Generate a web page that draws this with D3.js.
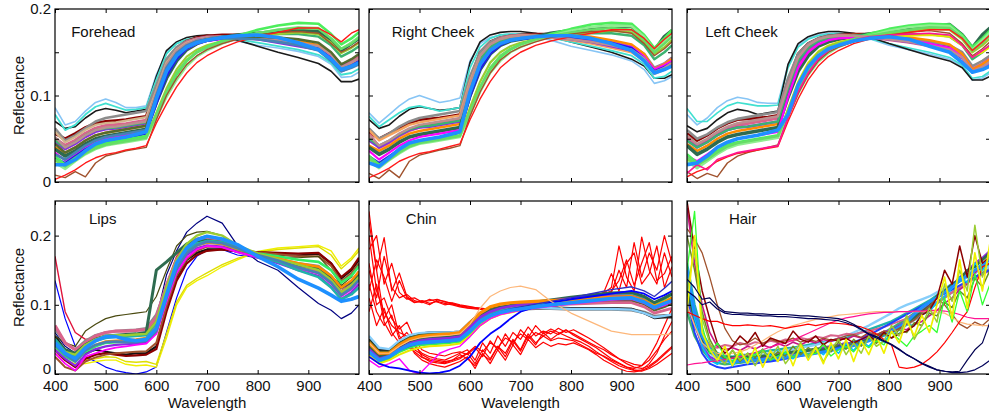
<!DOCTYPE html>
<html>
<head>
<meta charset="utf-8">
<script src="https://cdn.jsdelivr.net/npm/d3@7"></script>
<style>
  body { margin: 0; background: #fff; }
  svg { display: block; }
</style>
</head>
<body>
<svg id="chart" width="989" height="415"></svg>
<script>
// Reflectance spectra of six face / head regions. All reflectance values are in thousandths.

// Wavelength sampling (nm) for the smooth skin-type spectra
const skinGrid = [400,420,440,460,480,500,520,540,560,580,600,620,640,660,680,700,730,760,800,840,880,920,945,965,985,1000];
// Finer wavelength sampling (nm) for the noisy spectra
const fineGrid = [400,415,430,445,460,475,490,505,520,535,550,565,580,595,610,625,640,655,670,685,700,715,730,745,760,775,790,805,820,835,850,865,880,895,910,925,940,955,970,985,1000];

const foreheadCurves = [
  [86,66,70,82,92,96,92,86,86,88,124,150,160,164,166,167,166,163,158,155,151,145,136,121,122,127],
  [70,62,64,74,82,85,83,80,82,84,122,152,162,167,169,170,168,164,157,150,144,137,128,116,116,119],
  [78,60,66,78,87,91,87,83,84,86,118,148,160,165,167,168,167,165,161,157,153,147,138,124,126,131],
  [56,50,56,63,68,70,71,72,74,76,108,140,155,163,167,169,170,170,167,164,160,155,146,132,138,145],
  [62,48,54,62,70,74,76,78,80,82,112,142,156,163,166,168,168,167,166,164,162,158,149,136,140,146],
  [50,42,48,56,62,65,66,67,69,71,102,134,152,161,165,167,168,168,166,164,161,157,148,134,139,145],
  [58,46,52,60,66,68,69,71,73,75,106,138,153,161,165,167,168,167,165,162,158,153,143,130,134,138],
  [40,34,40,48,54,57,59,61,63,65,96,126,145,156,162,165,167,168,168,166,163,158,147,131,136,142],
  [46,38,44,52,58,61,62,64,66,68,98,128,148,159,164,166,168,168,165,161,157,153,142,128,133,139],
  [48,40,46,54,60,62,63,65,67,69,100,130,148,158,163,166,168,169,170,171,171,168,158,145,151,157],
  [38,30,36,44,50,53,55,57,59,61,92,120,140,153,160,164,167,170,172,174,175,174,164,152,160,166],
  [34,25,32,40,46,50,52,54,56,58,94,124,143,154,160,163,165,166,165,163,160,156,146,134,138,142],
  [28,22,30,38,44,47,49,51,53,56,90,122,142,154,160,163,166,167,166,164,160,155,143,130,135,140],
  [25,18,26,34,40,44,46,48,50,52,80,108,130,145,153,158,163,166,169,171,173,171,161,149,155,161],
  [30,20,28,36,42,45,47,49,51,53,76,102,124,140,150,156,163,169,176,181,184,183,171,159,166,173],
  [22,15,24,32,38,42,44,46,48,50,74,98,118,134,145,152,160,166,172,176,179,178,166,154,161,168],
  [26,18,25,33,39,43,45,47,49,51,78,104,126,141,150,155,162,167,172,176,178,177,166,154,160,167],
  [52,40,46,54,60,63,64,66,68,70,104,136,152,160,164,166,167,167,166,164,161,157,147,133,138,143],
  [8,5,12,6,22,30,33,36,38,40,72,100,120,136,146,153,160,165,170,173,174,172,160,150,156,162],
  [3,8,14,22,28,32,34,37,39,42,68,90,110,126,138,146,155,162,168,173,178,178,170,162,172,176],
  [44,34,40,48,54,57,59,61,63,65,98,128,146,156,162,165,167,168,168,167,165,161,150,136,142,148],
  [32,26,34,42,48,52,54,56,58,60,100,132,149,158,163,165,166,166,165,162,158,152,140,128,132,136],
  [20,20,26,36,44,48,50,52,55,58,96,128,146,156,161,164,167,169,170,167,161,153,142,130,134,138]
];

const rightCheekCurves = [
  [80,68,78,88,96,100,96,92,94,97,140,160,167,170,171,171,168,164,157,152,147,140,130,114,117,122],
  [72,62,66,76,84,87,85,83,84,86,138,162,170,173,174,174,172,168,162,156,150,142,134,120,120,124],
  [76,64,72,80,86,88,85,82,84,86,132,156,166,170,171,171,170,167,162,157,152,146,136,120,122,128],
  [58,50,56,62,68,72,73,74,76,78,118,150,162,167,169,170,171,171,168,165,161,156,146,130,136,143],
  [62,50,56,64,70,74,76,78,80,82,122,150,162,167,169,170,170,169,167,165,162,158,148,132,137,144],
  [55,40,46,54,60,64,66,68,70,72,112,144,158,165,168,169,169,168,165,162,158,154,145,130,136,142],
  [60,48,54,60,66,69,71,73,75,77,116,146,159,165,168,169,169,167,164,160,155,150,140,125,130,135],
  [42,36,42,50,56,59,61,63,65,67,104,136,153,162,166,168,169,170,170,168,164,159,148,130,136,142],
  [48,40,46,54,60,63,64,66,68,70,108,140,155,163,167,168,169,168,165,162,157,152,141,126,131,137],
  [50,42,48,55,61,64,65,67,69,71,110,142,156,163,166,168,169,170,171,172,172,169,158,142,150,158],
  [40,32,38,46,52,55,57,59,61,63,100,130,148,158,163,165,168,172,175,178,180,180,168,152,168,175],
  [36,26,34,42,48,52,54,56,58,60,102,134,150,159,164,166,167,168,167,165,161,156,145,130,135,140],
  [30,22,30,38,44,48,50,52,54,57,98,130,148,158,163,165,167,168,167,165,161,155,143,128,133,138],
  [26,18,26,34,41,45,47,49,51,53,86,116,138,150,157,161,165,168,171,173,175,173,162,148,156,164],
  [30,20,28,36,43,46,48,50,52,54,80,108,130,144,153,159,165,171,177,182,184,183,170,155,166,176],
  [24,16,25,33,40,44,46,48,50,52,78,104,126,140,150,156,163,169,175,179,181,180,168,152,163,172],
  [28,18,26,34,41,45,47,49,51,53,82,110,132,146,154,159,165,169,173,176,178,176,164,150,160,168],
  [54,42,48,56,62,66,68,70,72,74,114,146,159,165,168,169,169,168,165,162,158,153,143,127,132,138],
  [10,4,14,5,24,31,34,37,39,42,76,104,126,141,150,156,162,167,171,174,175,172,160,146,154,162],
  [5,10,16,24,29,33,35,38,41,44,72,96,116,132,142,150,158,163,168,172,176,176,166,154,165,172],
  [22,18,28,38,45,48,50,52,55,58,104,136,152,160,164,166,168,169,169,166,160,152,140,126,130,134]
];

const leftCheekCurves = [
  [78,66,74,86,94,98,96,92,91,91,135,158,166,170,172,172,170,166,158,153,148,142,134,118,120,126],
  [85,70,70,80,88,92,90,88,88,89,132,156,165,169,171,172,170,166,160,155,150,144,135,120,122,128],
  [65,58,62,72,80,84,82,78,80,82,136,160,168,172,174,174,172,168,160,153,146,140,132,118,118,122],
  [56,48,54,62,68,72,73,74,75,77,116,148,160,166,169,170,171,171,168,165,161,156,146,130,136,143],
  [60,50,55,63,69,73,75,77,79,81,120,148,160,166,169,170,170,169,167,165,162,158,150,134,140,146],
  [52,42,48,56,62,66,68,70,72,74,110,142,157,164,167,169,169,168,165,162,158,154,146,130,136,142],
  [44,36,42,50,56,59,61,63,65,67,102,134,152,162,166,168,170,170,169,167,164,159,148,130,136,142],
  [48,40,46,54,60,63,64,66,68,70,106,138,154,162,166,168,169,168,165,162,158,153,143,127,132,138],
  [42,32,38,46,52,55,57,59,61,63,98,128,146,157,162,165,168,171,174,177,180,182,170,155,170,178],
  [48,40,46,54,60,63,64,66,68,70,108,140,155,163,166,168,169,170,171,171,171,168,158,142,150,158],
  [30,24,32,40,46,50,52,54,56,58,98,132,150,159,164,166,167,167,166,164,160,155,144,128,133,138],
  [25,20,28,35,40,44,46,48,50,52,84,116,138,151,158,162,165,167,168,169,170,168,158,145,150,156],
  [26,18,26,34,41,45,47,49,51,53,84,114,136,150,157,161,165,168,171,174,177,176,165,150,158,166],
  [32,22,28,36,43,46,48,50,52,54,78,106,128,143,152,158,165,171,177,181,183,182,170,156,166,175],
  [24,16,24,32,39,43,45,47,49,51,76,102,124,139,149,156,163,169,175,179,181,180,168,153,164,173],
  [28,20,26,34,41,45,47,49,51,53,80,108,130,145,154,159,165,169,173,176,179,178,167,152,161,170],
  [54,44,50,58,64,68,70,72,74,76,112,144,158,165,168,169,169,168,165,162,158,153,144,128,133,139],
  [12,4,10,6,22,30,34,37,40,43,74,102,124,140,150,156,162,166,170,173,175,172,160,146,154,162],
  [6,12,16,24,29,33,35,37,39,41,70,96,118,134,145,152,160,165,169,173,176,176,166,152,162,170],
  [10,20,14,26,30,34,36,38,40,42,74,104,126,142,152,158,164,168,170,171,172,170,158,144,152,158],
  [20,22,30,40,46,50,52,54,57,60,78,112,133,146,154,158,163,166,168,165,157,150,138,127,130,134]
];

const lipsCurves = [
  [135,80,40,25,18,10,5,2,0,3,10,60,110,150,170,180,180,172,168,162,155,150,135,115,125,140],
  [30,20,15,15,18,20,20,14,12,13,10,52,100,125,135,142,155,165,177,182,184,186,178,156,168,182],
  [40,28,25,20,22,25,24,18,17,18,14,58,104,128,138,146,158,167,176,180,182,184,172,152,165,178],
  [55,35,25,30,35,32,30,28,30,30,40,96,140,165,175,180,180,177,174,172,171,174,160,138,150,165],
  [35,20,10,22,28,30,28,26,27,28,36,90,135,160,172,178,180,177,176,175,174,175,160,140,152,168],
  [25,10,5,18,24,28,30,31,32,33,45,98,142,166,178,184,184,180,176,173,170,170,156,134,146,160],
  [60,40,30,45,52,55,55,54,55,56,80,143,178,205,218,228,218,186,163,150,125,102,92,80,88,100],
  [55,45,40,62,72,80,84,86,88,90,112,150,185,200,205,206,200,180,170,168,168,170,150,128,140,158],
  [170,90,60,50,52,55,55,55,56,58,80,130,170,188,196,200,195,178,170,166,160,155,140,120,132,148],
  [65,45,35,48,56,60,62,63,64,66,86,126,160,178,186,190,188,180,172,166,160,156,142,124,134,148],
  [70,45,35,45,55,60,62,62,63,64,82,128,165,185,193,196,193,184,173,165,155,148,135,118,128,140],
  [50,35,30,42,50,55,56,57,58,60,150,162,175,188,192,193,190,182,172,166,158,152,140,125,133,145],
  [40,25,18,32,40,45,46,46,47,48,64,118,158,178,188,192,190,182,174,170,165,162,150,132,142,156],
  [35,22,12,28,36,40,42,43,44,45,60,108,150,172,182,186,184,176,168,160,150,142,126,108,118,130],
  [30,15,5,25,30,35,38,40,42,44,58,104,146,168,180,185,183,176,169,162,152,145,130,112,122,135],
  [45,30,20,35,42,47,48,49,50,52,70,120,158,176,186,190,188,181,173,167,160,155,142,125,135,148],
  [50,32,25,40,48,52,54,54,55,56,74,124,162,180,188,192,190,182,171,162,150,140,125,108,115,125],
  [45,32,28,42,50,55,56,56,57,58,76,125,165,188,200,205,200,186,174,166,158,150,136,118,128,140],
  [42,28,18,34,42,46,47,46,46,48,62,110,152,175,186,191,189,182,172,164,154,146,132,114,124,136],
  [45,30,22,38,48,54,54,50,48,50,66,114,160,182,194,199,195,187,170,155,137,124,114,105,108,112]
];

// Chin: noisy outlier spectra (fine grid)
const chinOutlierCurves = [
  [235,150,197,120,146,112,104,105,106,108,104,103,100,98,96,95,93,92,94,96,98,99,101,103,104,105,106,108,110,112,113,115,118,150,125,190,140,175,150,200,160],
  [180,200,130,160,118,108,110,104,100,107,105,101,99,97,96,94,93,93,95,97,98,100,102,103,104,106,107,109,111,113,115,116,120,135,165,128,160,190,135,145,170],
  [150,110,170,125,110,115,106,103,108,104,100,102,98,96,95,94,92,92,93,95,97,99,101,102,104,105,107,108,110,112,114,117,125,185,140,120,198,150,130,175,140],
  [120,165,140,105,135,110,103,106,102,105,102,100,97,95,94,93,92,91,93,95,96,98,100,101,103,104,106,107,109,111,113,118,145,120,160,175,130,145,185,125,155],
  [200,120,90,70,60,55,40,30,25,22,20,25,30,35,20,45,30,55,40,60,50,68,55,62,58,66,60,64,58,52,45,38,30,22,15,10,8,12,20,30,40],
  [160,100,110,80,65,75,50,35,30,28,26,30,32,28,38,25,48,35,58,42,64,52,70,58,65,60,55,50,46,40,32,25,18,12,8,5,6,15,30,55,76],
  [130,90,70,85,50,60,45,25,18,16,15,18,22,30,15,35,22,40,30,50,35,58,45,55,48,52,50,48,42,36,30,26,20,15,10,8,12,25,45,70,95],
  [110,70,95,60,45,50,30,20,15,12,10,14,18,25,8,30,15,35,20,42,28,50,38,46,40,44,42,45,40,35,28,20,14,8,4,3,5,10,18,28,38],
  [90,130,75,55,70,45,35,28,22,20,18,20,24,30,40,32,45,38,52,46,58,50,60,55,62,57,63,58,52,46,40,35,28,22,18,14,12,20,34,50,62],
  [220,150,80,100,55,40,32,24,20,18,16,20,28,22,12,28,20,40,25,48,33,55,42,60,50,58,64,56,50,44,38,30,22,16,10,6,4,8,14,22,30]
];

// Chin: regular spectra (skin grid)
const chinCurves = [
  [38,24,27,36,44,48,49,50,51,53,66,80,87,91,93,94,95,95,94,94,94,93,89,83,84,84],
  [50,35,35,46,54,58,60,60,60,61,75,88,94,97,98,98,97,96,95,95,95,94,88,81,82,82],
  [55,38,36,48,56,59,60,60,60,61,74,86,92,95,96,96,96,95,94,94,94,93,88,82,84,86],
  [48,32,32,44,52,56,57,58,58,59,72,85,92,96,98,99,100,101,102,103,105,106,101,92,97,102],
  [42,28,30,40,48,52,53,54,55,57,71,85,92,95,97,98,99,100,101,102,103,103,97,88,92,95],
  [35,22,25,34,42,46,47,48,49,51,64,78,86,91,94,96,99,102,106,109,112,112,106,96,102,108],
  [30,18,22,32,38,42,43,44,45,47,58,72,81,87,90,93,97,101,106,110,114,116,110,100,108,115],
  [28,15,20,28,34,38,40,41,42,44,55,70,80,86,89,92,96,100,104,107,110,111,105,96,103,110],
  [20,10,15,22,5,0,15,30,36,40,54,70,80,86,89,92,95,98,101,104,107,108,102,94,99,104],
  [40,25,28,38,46,50,52,53,54,56,70,84,92,96,99,101,104,107,111,114,117,118,112,103,110,116],
  [36,22,26,36,44,48,50,51,52,54,68,82,90,95,98,100,103,106,109,111,113,113,107,97,103,108],
  [45,30,30,42,50,54,56,57,58,60,74,88,97,101,103,104,105,106,107,109,111,112,106,98,104,110],
  [30,20,24,34,40,44,45,46,47,49,62,76,85,90,94,97,101,105,110,116,122,126,120,112,124,134],
  [25,15,10,8,5,2,1,2,5,12,25,45,58,68,80,90,97,103,108,112,116,120,116,108,114,120],
  [45,30,30,40,48,52,54,55,56,58,72,95,112,120,125,127,122,105,88,75,62,57,57,57,57,58],
  [32,20,25,35,42,45,46,47,48,50,62,76,84,89,92,94,97,100,103,106,109,110,104,96,102,106]
];

// Hair spectra (fine grid)
const hairCurves = [
  [90,55,35,22,16,14,15,16,18,19,20,21,22,24,25,27,29,31,33,36,38,41,44,47,51,55,60,66,73,80,88,96,104,112,120,127,134,141,148,154,160],
  [100,70,45,30,24,22,20,24,22,26,25,28,30,29,32,34,33,37,38,40,42,41,45,47,50,53,57,62,66,71,78,86,94,102,110,118,124,132,140,146,152],
  [130,75,40,25,20,18,20,22,21,24,23,26,28,30,29,32,35,34,38,40,42,45,44,48,52,56,60,64,70,76,84,92,100,110,120,128,140,148,160,168,178],
  [160,100,60,40,30,26,25,27,28,30,32,34,35,37,38,40,42,44,46,48,50,53,56,60,64,68,72,76,82,88,94,100,106,114,120,128,134,140,146,152,158],
  [130,85,50,30,22,20,22,23,25,26,28,30,32,34,36,38,40,42,45,48,51,55,60,65,70,76,82,88,95,100,104,108,112,118,124,130,136,140,146,150,156],
  [110,75,55,40,38,42,40,45,42,46,44,48,46,50,48,52,50,54,52,56,55,58,57,60,62,65,68,72,76,80,86,92,98,104,112,118,126,132,138,144,150],
  [240,160,100,60,40,35,38,34,40,36,42,38,44,40,46,42,48,45,50,47,52,50,55,52,58,56,62,60,66,64,72,76,84,92,102,110,122,130,146,156,168],
  [120,80,50,32,26,22,24,22,25,24,26,28,27,30,32,31,34,36,35,39,40,43,42,46,50,54,58,62,68,74,82,90,98,112,120,130,136,150,155,165,175],
  [110,60,30,15,10,8,10,12,14,15,17,18,20,22,24,26,28,30,32,35,38,42,46,50,56,62,68,74,80,86,92,98,104,110,116,122,128,134,140,146,150],
  [140,80,40,20,14,24,12,22,16,26,18,28,20,30,22,34,24,36,28,40,30,44,34,48,40,52,46,60,58,72,70,86,90,104,112,124,140,132,160,150,170],
  [150,90,55,35,25,20,18,18,20,20,21,22,23,24,26,27,28,30,32,34,36,38,41,44,48,52,56,62,68,75,86,96,104,110,118,126,135,142,150,158,165],
  [200,150,90,50,30,22,34,18,30,24,36,20,32,26,40,28,38,30,44,32,46,36,50,40,54,44,58,52,64,60,74,70,88,84,104,96,120,110,138,126,150],
  [210,195,175,140,100,66,48,42,45,52,44,50,46,48,52,46,50,47,52,49,51,55,57,53,60,57,62,60,66,72,78,88,98,110,100,86,72,66,75,70,80],
  [100,70,45,35,30,28,30,32,36,42,48,55,61,66,70,73,76,79,81,83,85,86,87,88,89,90,90,90,90,90,90,90,90,89,88,82,75,72,71,70,70],
  [13,15,16,18,19,21,23,25,28,31,35,39,42,45,49,54,59,64,69,74,78,81,83,85,87,88,89,89,90,90,91,91,92,92,91,89,86,82,80,80,80],
  [90,85,80,76,76,72,70,70,71,70,69,70,68,66,68,70,72,70,72,74,73,72,70,68,64,58,50,42,10,8,10,14,22,32,45,60,76,90,125,155,160],
  [250,180,120,80,45,30,40,55,45,60,40,52,48,44,62,50,46,55,42,50,48,52,45,50,55,48,60,52,58,62,70,85,92,110,150,130,185,140,200,160,170],
  [150,235,70,30,45,25,18,30,22,28,35,20,26,32,24,36,28,30,42,26,35,40,32,45,38,48,42,60,50,40,55,62,70,60,110,75,120,90,145,100,130],
  [120,180,80,45,25,15,35,20,30,12,33,22,40,15,30,45,25,40,18,35,50,28,45,30,55,40,48,70,55,85,50,70,95,75,130,105,150,120,215,140,175],
  [90,200,60,35,20,40,12,35,15,38,10,34,18,40,12,42,20,38,15,45,22,50,18,48,28,55,30,62,45,78,55,85,60,100,140,80,165,95,175,120,190],
  [137,125,108,110,98,90,89,88,88,87,87,86,86,86,85,84,84,83,82,81,80,77,72,65,58,54,48,43,36,28,22,16,11,6,4,3,4,20,35,45,75],
  [120,112,100,104,94,88,86,86,85,85,84,84,83,83,82,81,80,80,79,78,77,74,70,64,57,52,47,42,35,28,22,15,10,6,4,2,2,3,6,12,20]
];

// Axis tick values
const xTickValues = [400, 500, 600, 700, 800, 900];
const yTicksTop = [0, 0.05, 0.1, 0.15, 0.2];
const yTicksBottom = [0, 0.1, 0.2];
const yLabelValues = [0, 0.1, 0.2];

// Line colours and widths per panel
const skinColors = ["#87c5f5","#1a1a1a","#40e0d0","#8b0000","#8c8c8c","#d9648c","#d2b48c","#ff8c00","#8a2be2","#3cb371","#2e6b4f","#ff00ff","#1f1fe6","#9acd32","#4cee5c","#90ee90","#66dd66","#bc8f8f","#a0522d","#ff1a1a","#556b2f","#4682b4","#1e90ff"];
const foreheadWidths = [1.6,1.6,1.8,2.8,2.6,3.6,2.2,2.4,2.6,2.4,3.6,2,2.2,2.2,2.6,2.4,2.4,2.4,1.4,1.4,2.4,2.6,3.6];
const cheekColors = ["#87c5f5","#1a1a1a","#40e0d0","#8b0000","#8c8c8c","#d9648c","#f4a460","#ff8c00","#8a2be2","#3cb371","#2e6b4f","#ff00ff","#1f1fe6","#9acd32","#4cee5c","#90ee90","#66dd66","#bc8f8f","#a0522d","#ff1a1a","#1e90ff"];
const leftCheekColors = ["#87c5f5","#40e0d0","#1a1a1a","#8b0000","#8c8c8c","#d9648c","#ff8c00","#8a2be2","#2e6b4f","#3cb371","#ff00ff","#e6e600","#9acd32","#4cee5c","#90ee90","#66dd66","#bc8f8f","#a0522d","#ff1a1a","#ff1493","#1e90ff"];
const cheekWidths = [1.6,1.6,1.8,2.8,2.6,3.8,2.4,2.4,2.6,2.4,3.6,2.2,2.2,2.2,2.6,2.4,2.4,2.4,1.4,1.4,3.6];
const leftCheekWidths = [1.6,1.6,1.6,2.8,2.6,3.8,2.4,2.6,3.6,2.4,2.2,2,2.2,2.6,2.4,2.4,2.4,1.4,1.4,1.6,3.6];
const lipsColors = ["#0000ff","#f0f000","#dede00","#111111","#8b0000","#a0522d","#000080","#4a4a10","#e0143c","#8c8c8c","#d9648c","#2e6b4f","#33ee66","#8a2be2","#ff00ff","#ff8c00","#20b2aa","#9acd32","#4682b4","#1e90ff"];
const lipsWidths = [1.2,1.4,1.4,2.2,2.2,2,1.2,1.2,1.4,2.6,3.2,3,2.6,2.2,1.8,2.4,2.6,2.4,2.6,3.6];
const chinOutlierColor = "#ff0000";
const chinColors = ["#7f7f7f","#222222","#87cefa","#556b2f","#d9648c","#20b2aa","#33ee55","#e8e800","#ff00ff","#2e6b4f","#8a2be2","#ff8c00","#3030c0","#0000ff","#fdb77a","#1e90ff"];
const chinWidths = [3.6,2.4,2.4,2.4,2.8,2.8,2.4,2,1.4,3,2.6,3.2,1.4,1.8,1.2,3.6];
const hairColors = ["#3cb371","#8c8c8c","#8a2be2","#20b2aa","#87cefa","#d9648c","#c71585","#2e6b4f","#2040ff","#00bfff","#1e90ff","#6b8e23","#a0522d","#fdb77a","#ff1493","#ff0000","#8b0000","#33ff33","#9acd32","#f0f000","#000050","#00005a"];
const hairWidths = [2.4,2.4,2.2,2.4,2.4,2,1.6,2.8,2,1.6,3,1.5,1.3,1.2,1.2,1.2,1.5,1.3,1.5,1.7,1.2,1.2];

// Layout
const cols = [{x: 55, w: 304}, {x: 369, w: 303}, {x: 687, w: 303}];
const rows = [
  {y: 9, h: 173, max: 0.2, ticks: yTicksTop},
  {y: 201, h: 173, max: 0.25, ticks: yTicksBottom}
];

const panels = [
  {id: "fh", title: "Forehead", col: 0, row: 0, tx: 432, ty: 0.168,
   sets: [{grid: skinGrid, curves: foreheadCurves, colors: skinColors, widths: foreheadWidths}]},
  {id: "rc", title: "Right Cheek", col: 1, row: 0, tx: 445, ty: 0.168,
   sets: [{grid: skinGrid, curves: rightCheekCurves, colors: cheekColors, widths: cheekWidths}]},
  {id: "lc", title: "Left Cheek", col: 2, row: 0, tx: 436, ty: 0.168,
   sets: [{grid: skinGrid, curves: leftCheekCurves, colors: leftCheekColors, widths: leftCheekWidths}]},
  {id: "lp", title: "Lips", col: 0, row: 1, tx: 467, ty: 0.217,
   sets: [{grid: skinGrid, curves: lipsCurves, colors: lipsColors, widths: lipsWidths}]},
  {id: "ch", title: "Chin", col: 1, row: 1, tx: 473, ty: 0.217,
   sets: [
     {grid: fineGrid, curves: chinOutlierCurves, colors: chinOutlierCurves.map(() => chinOutlierColor), widths: chinOutlierCurves.map(() => 1.2)},
     {grid: skinGrid, curves: chinCurves, colors: chinColors, widths: chinWidths}
   ]},
  {id: "hr", title: "Hair", col: 2, row: 1, tx: 483, ty: 0.217,
   sets: [{grid: fineGrid, curves: hairCurves, colors: hairColors, widths: hairWidths}]}
];

const FONT = "'Liberation Sans', Arial, Helvetica, sans-serif";
const svg = d3.select("#chart");
svg.append("rect").attr("width", 989).attr("height", 415).attr("fill", "#fff");
const defs = svg.append("defs");
const fmt = d => d === 0 ? "0" : d3.format(".1f")(d);

function styleAxis(sel) {
  sel.attr("font-size", 15).attr("font-family", FONT);
  sel.select(".domain").remove();
  sel.selectAll(".tick line").attr("stroke", "#000").attr("stroke-width", 1);
  sel.selectAll(".tick text").attr("fill", "#111");
}

panels.forEach(p => {
  const c = cols[p.col], r = rows[p.row];
  const x = d3.scaleLinear().domain([400, 1000]).range([c.x, c.x + c.w]);
  const y = d3.scaleLinear().domain([0, r.max]).range([r.y + r.h, r.y]);
  const g = svg.append("g");

  defs.append("clipPath").attr("id", "clip-" + p.id)
    .append("rect").attr("x", c.x).attr("y", r.y).attr("width", c.w).attr("height", r.h);

  const plot = g.append("g").attr("clip-path", `url(#clip-${p.id})`);
  p.sets.forEach(s => {
    const line = d3.line().x((d, i) => x(s.grid[i])).y(d => y(d / 1000));
    s.curves.forEach((cv, i) => {
      plot.append("path")
        .attr("d", line(cv))
        .attr("fill", "none")
        .attr("stroke", s.colors[i])
        .attr("stroke-width", s.widths[i])
        .attr("stroke-linejoin", "round");
    });
  });

  // Ticks on all four sides, pointing inward
  g.append("g").attr("transform", `translate(0,${r.y + r.h})`)
    .call(d3.axisBottom(x).tickValues(xTickValues).tickSize(-4).tickPadding(6)
      .tickFormat(p.row === 1 ? d3.format("d") : () => ""))
    .call(styleAxis);
  g.append("g").attr("transform", `translate(0,${r.y})`)
    .call(d3.axisTop(x).tickValues(xTickValues).tickSize(-4).tickFormat(() => ""))
    .call(styleAxis);
  const yAxis = g.append("g").attr("transform", `translate(${c.x},0)`)
    .call(d3.axisLeft(y).tickValues(r.ticks).tickSize(-4).tickPadding(4)
      .tickFormat(d => (p.col === 0 && yLabelValues.includes(d)) ? fmt(d) : ""))
    .call(styleAxis);
  // lift the bottom-row zero label clear of the wavelength labels
  if (p.row === 1) yAxis.selectAll(".tick text").filter(d => d === 0).attr("dy", "-0.05em");
  g.append("g").attr("transform", `translate(${c.x + c.w},0)`)
    .call(d3.axisRight(y).tickValues(r.ticks).tickSize(-4).tickFormat(() => ""))
    .call(styleAxis);

  g.append("rect")
    .attr("x", c.x).attr("y", r.y).attr("width", c.w).attr("height", r.h)
    .attr("fill", "none").attr("stroke", "#000").attr("stroke-width", 1.2);

  g.append("text")
    .attr("x", x(p.tx)).attr("y", y(p.ty))
    .attr("font-family", FONT).attr("font-size", 15).attr("fill", "#111")
    .text(p.title);

  if (p.row === 1) {
    g.append("text")
      .attr("x", c.x + c.w / 2).attr("y", 408)
      .attr("text-anchor", "middle")
      .attr("font-family", FONT).attr("font-size", 15).attr("fill", "#111")
      .text("Wavelength");
  }
  if (p.col === 0) {
    g.append("text")
      .attr("transform", `translate(24,${r.y + r.h / 2}) rotate(-90)`)
      .attr("text-anchor", "middle")
      .attr("font-family", FONT).attr("font-size", 15).attr("fill", "#111")
      .text("Reflectance");
  }
});
</script>
</body>
</html>
